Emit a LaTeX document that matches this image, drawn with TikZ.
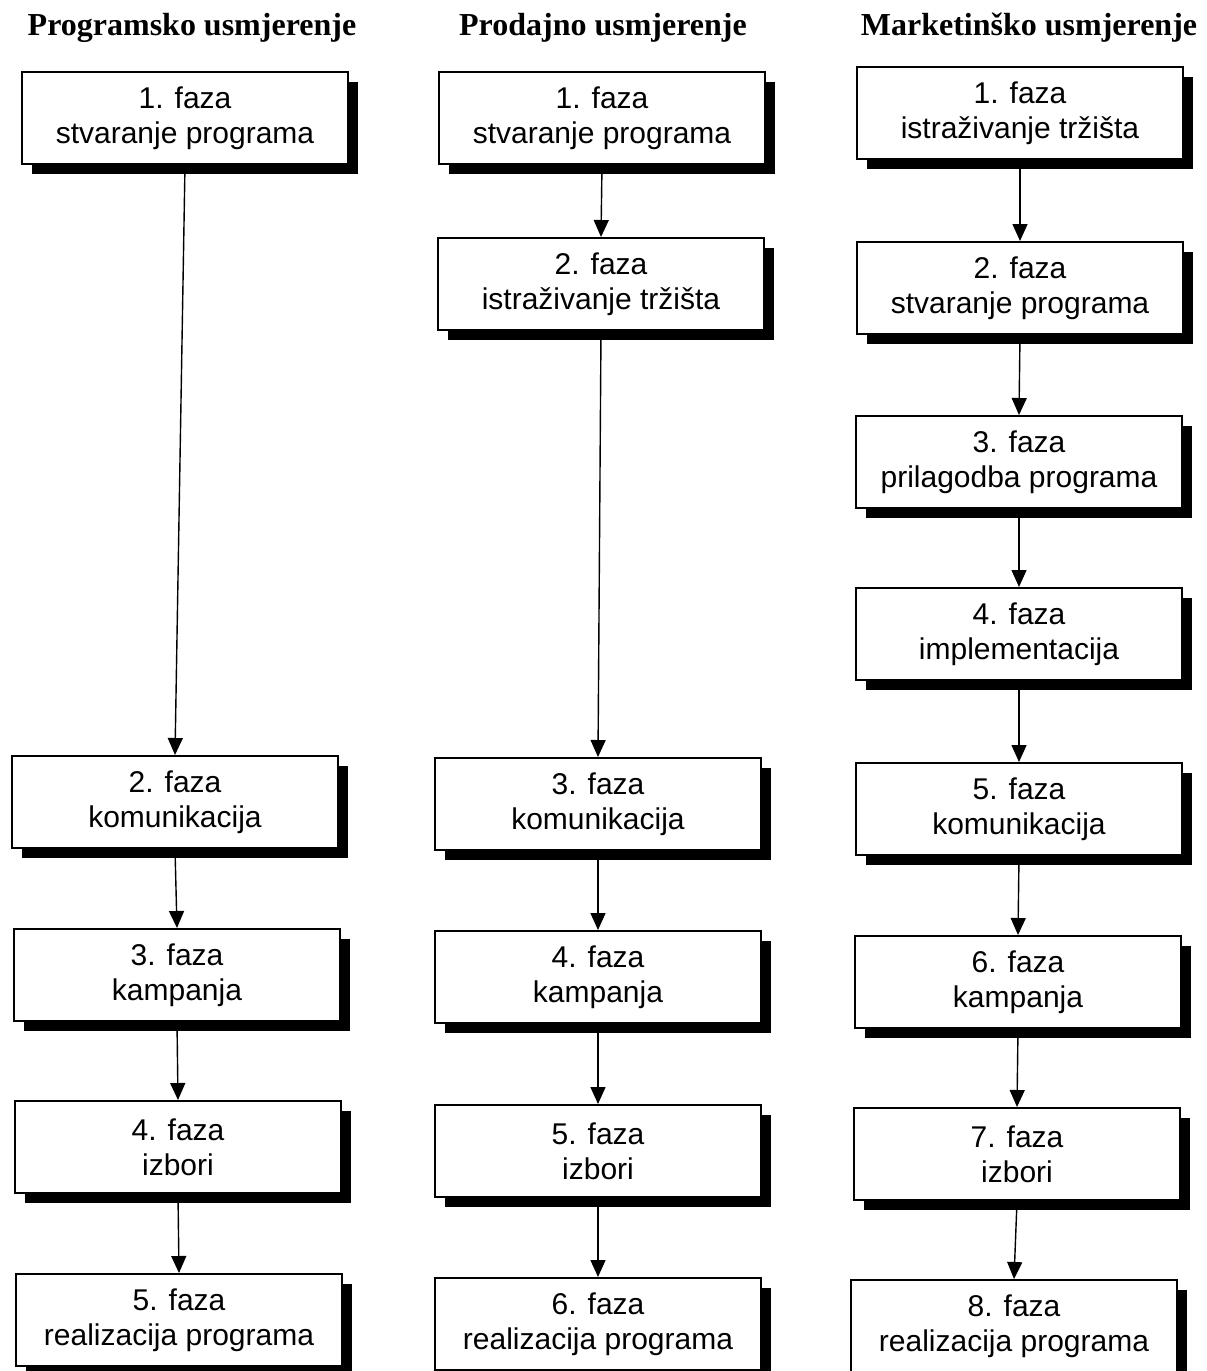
\documentclass[tikz,border=0pt]{standalone}
\usepackage{fontspec}
\setmainfont{Liberation Serif}
\setsansfont{Liberation Sans}
\usetikzlibrary{arrows.meta, shadows}
\tikzset{fazabox/.style = {draw, line width = 1pt, fill = white,
    minimum width = 163pt, minimum height = 46pt, inner sep = 0pt,
    align = center, font = \sffamily\fontsize{15}{17.5}\selectfont,
    drop shadow = {shadow xshift = 5pt, shadow yshift = -5pt, fill = black, opacity = 1}
    },
    smjer/.style = {font = \bfseries\fontsize{16}{20}\selectfont},
    tok/.style = {line width = 0.7pt, -{Triangle[width = 7.5pt, length = 8.5pt]}}
}
\def\faza#1#2{#1. faza\\#2}

\begin{document}
\begin{tikzpicture}[x = 0.5pt, y = -0.5pt]

    \useasboundingbox (0,0) rectangle (1206,1371);

    % naslovi stupaca
    \node (hprog) [smjer] at (192,28) {Programsko usmjerenje};
    \node (hprod) [smjer] at (603,28) {Prodajno usmjerenje};
    \node (hmark) [smjer] at (1029,28) {Marketinško usmjerenje};

    % programsko usmjerenje
    \node (prog1) [fazabox] at (185,118) {\faza{1}{stvaranje programa}};
    \node (prog2) [fazabox] at (175,802) {\faza{2}{komunikacija}};
    \node (prog3) [fazabox] at (177,975) {\faza{3}{kampanja}};
    \node (prog4) [fazabox] at (178,1147) {\faza{4}{izbori}};
    \node (prog5) [fazabox] at (179,1320) {\faza{5}{realizacija programa}};

    % prodajno usmjerenje
    \node (prod1) [fazabox] at (602,118) {\faza{1}{stvaranje programa}};
    \node (prod2) [fazabox] at (601,284) {\faza{2}{istraživanje tržišta}};
    \node (prod3) [fazabox] at (598,804) {\faza{3}{komunikacija}};
    \node (prod4) [fazabox] at (598,977) {\faza{4}{kampanja}};
    \node (prod5) [fazabox] at (598,1151) {\faza{5}{izbori}};
    \node (prod6) [fazabox] at (598,1324) {\faza{6}{realizacija programa}};

    % marketinško usmjerenje
    \node (mark1) [fazabox] at (1020,113) {\faza{1}{istraživanje tržišta}};
    \node (mark2) [fazabox] at (1020,288) {\faza{2}{stvaranje programa}};
    \node (mark3) [fazabox] at (1019,462) {\faza{3}{prilagodba programa}};
    \node (mark4) [fazabox] at (1019,634) {\faza{4}{implementacija}};
    \node (mark5) [fazabox] at (1019,809) {\faza{5}{komunikacija}};
    \node (mark6) [fazabox] at (1018,982) {\faza{6}{kampanja}};
    \node (mark7) [fazabox] at (1017,1154) {\faza{7}{izbori}};
    \node (mark8) [fazabox] at (1014,1326) {\faza{8}{realizacija programa}};

    % strelice
    \foreach \i [evaluate = \i as \j using int(\i+1)] in {1,...,4}
        \draw [tok] (prog\i.south) -- (prog\j.north);
    \foreach \i [evaluate = \i as \j using int(\i+1)] in {1,...,5}
        \draw [tok] (prod\i.south) -- (prod\j.north);
    \foreach \i [evaluate = \i as \j using int(\i+1)] in {1,...,7}
        \draw [tok] (mark\i.south) -- (mark\j.north);

\end{tikzpicture}
\end{document}
